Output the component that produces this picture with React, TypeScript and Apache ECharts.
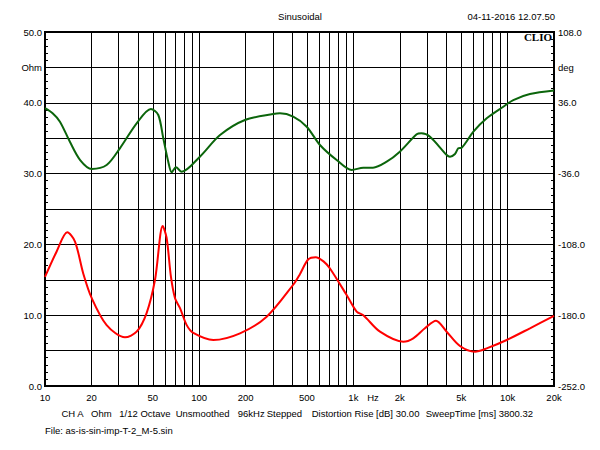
import React, { useEffect, useRef } from 'react';
import * as echarts from 'echarts';

const freqImp = [10, 11.9, 13.95, 15.65, 17.7, 20.1, 25.1, 33, 39.3, 45.6, 51.7, 58, 61.5, 65.6, 69.7, 75.1, 83, 91.6, 123.5, 184, 274, 407, 450, 510, 570, 640, 705, 904, 1050, 1160, 1488, 2107, 2445, 2910, 3433, 4025, 4910, 6150, 7320, 9870, 13960, 20000];
const impedance = [15.4, 19.0, 21.7, 20.4, 15.9, 12.4, 8.6, 6.88, 7.67, 10.3, 15.0, 22.6, 20.9, 15.4, 12.4, 11.0, 8.6, 7.5, 6.5, 7.44, 9.79, 14.3, 15.8, 17.9, 18.2, 17.6, 16.6, 12.85, 10.5, 10.0, 7.67, 6.26, 6.74, 8.15, 9.22, 7.67, 5.65, 4.85, 5.32, 6.5, 8.15, 9.9];

const freqPhase = [10, 11.2, 12.5, 14.5, 16.9, 20.1, 25.1, 30.6, 39.3, 48.6, 54.3, 58.5, 63, 66.3, 70.7, 77, 101, 136.5, 198, 302, 334, 407, 498, 607, 779, 975, 1160, 1340, 1645, 2000, 2573, 2760, 3140, 4030, 4230, 4560, 4790, 5040, 6000, 7320, 9380, 10890, 13960, 20000];
const phase = [30.5, 25.3, 16.8, -3.6, -22.2, -31.3, -27.3, -10.3, 15.1, 29.7, 23.6, -0.1, -23.9, -34.7, -29.6, -34.1, -18.8, 3.2, 18.5, 24.6, 25.3, 21.9, 11.7, -6.9, -22.2, -32.3, -30, -30, -23.9, -13.7, 4.0, 5.0, 1.5, -17.1, -18.8, -16, -10.3, -9.7, 6.6, 20.2, 32.0, 38.8, 44.9, 48.5];

const xTickLabels = [10, 20, 50, 100, 200, 500, 1000, 2000, 5000, 10000, 20000];
const xGridLines = [20, 30, 40, 50, 60, 70, 80, 90, 100, 200, 300, 400, 500, 600, 700, 800, 900, 1000, 2000, 3000, 4000, 5000, 6000, 7000, 8000, 9000, 10000];

const leftLabels: Record<number, string> = { 50: '50.0', 45: 'Ohm', 40: '40.0', 30: '30.0', 20: '20.0', 10: '10.0', 0: '0.0' };
const rightLabels: Record<number, string> = { 108: '108.0', 72: 'deg', 36: '36.0', [-36]: '-36.0', [-108]: '-108.0', [-180]: '-180.0', [-252]: '-252.0' };

const titleText = 'Sinusoidal';
const dateText = '04-11-2016 12.07.50';
const footerItems = [
  { text: 'CH A', x: 61.5 },
  { text: 'Ohm', x: 91 },
  { text: '1/12 Octave', x: 119.3 },
  { text: 'Unsmoothed', x: 175.7 },
  { text: '96kHz', x: 237.7 },
  { text: 'Stepped', x: 266.7 },
  { text: 'Distortion Rise [dB] 30.00', x: 311.7 },
  { text: 'SweepTime [ms] 3800.32', x: 425.7 },
];
const fileText = 'File: as-is-sin-imp-T-2_M-5.sin';

const FONT = '"Liberation Sans", Arial, sans-serif';
const FS = 9.5;

export default function App() {
  const ref = useRef<HTMLDivElement>(null);
  useEffect(() => {
    document.body.style.margin = '0';
    const chart = echarts.init(ref.current!, null, { renderer: 'svg' });
    const txt = (text: string, x: number, y: number, align: string = 'left', extra: any = {}) => ({
      type: 'text',
      x,
      y,
      silent: true,
      style: { text, fill: '#000', fontSize: FS, fontFamily: FONT, align, verticalAlign: 'middle', ...extra },
    });
    chart.setOption({
      animation: false,
      backgroundColor: '#fff',
      grid: { left: 45, right: 46, top: 32, bottom: 64, show: true, borderColor: '#000', borderWidth: 2, backgroundColor: 'transparent' },
      xAxis: {
        type: 'log',
        logBase: 10,
        min: 10,
        max: 20000,
        axisLine: { show: false },
        axisTick: { show: false },
        splitLine: { show: false },
        minorTick: { show: false },
        axisLabel: {
          customValues: xTickLabels,
          margin: 6,
          color: '#000',
          fontSize: FS,
          fontFamily: FONT,
          formatter: (v: number) => (v >= 1000 ? `${Math.round(v / 1000)}k` : `${Math.round(v)}`),
        },
      },
      yAxis: [
        {
          type: 'value',
          min: 0,
          max: 50,
          interval: 5,
          position: 'left',
          axisLine: { show: false },
          axisTick: { show: true, inside: true, length: 4, lineStyle: { color: '#000' } },
          minorTick: { show: true, splitNumber: 5, length: 3, lineStyle: { color: '#000' } },
          splitLine: { show: true, lineStyle: { color: '#000', width: 1 } },
          axisLabel: {
            margin: 3,
            color: '#000',
            fontSize: FS,
            fontFamily: FONT,
            formatter: (v: number) => leftLabels[Math.round(v)] ?? '',
          },
        },
        {
          type: 'value',
          min: -252,
          max: 108,
          interval: 36,
          position: 'right',
          axisLine: { show: false },
          axisTick: { show: true, inside: true, length: 4, lineStyle: { color: '#000' } },
          minorTick: { show: true, splitNumber: 5, length: 3, lineStyle: { color: '#000' } },
          splitLine: { show: false },
          axisLabel: {
            margin: 4,
            color: '#000',
            fontSize: FS,
            fontFamily: FONT,
            formatter: (v: number) => rightLabels[Math.round(v)] ?? '',
          },
        },
      ],
      series: [
        {
          type: 'line',
          data: [],
          z: 1,
          silent: true,
          markLine: {
            silent: true,
            symbol: ['none', 'none'],
            label: { show: false },
            emphasis: { disabled: true },
            lineStyle: { color: '#000', width: 1, type: 'solid' },
            data: xGridLines.map((v) => ({ xAxis: v })),
          },
        },
        {
          type: 'line',
          name: 'Impedance',
          data: freqImp.map((f, i) => [f, impedance[i]]),
          yAxisIndex: 0,
          showSymbol: false,
          smooth: 0.3,
          z: 5,
          lineStyle: { color: '#ff0000', width: 2 },
        },
        {
          type: 'line',
          name: 'Phase',
          data: freqPhase.map((f, i) => [f, phase[i]]),
          yAxisIndex: 1,
          showSymbol: false,
          smooth: 0.3,
          z: 5,
          lineStyle: { color: '#0b650b', width: 2 },
        },
      ],
      graphic: [
        txt(titleText, 300, 16, 'center'),
        txt(dateText, 555, 16, 'right'),
        txt('CLIO', 552, 37, 'right', { fontFamily: '"Liberation Serif", "Times New Roman", serif', fontWeight: 'bold', fontSize: 11 }),
        txt('Hz', 373, 397, 'center'),
        ...footerItems.map((it) => txt(it.text, it.x, 413, 'left')),
        txt(fileText, 45, 430, 'left'),
      ],
    });
    return () => chart.dispose();
  }, []);
  return <div ref={ref} style={{ width: 600, height: 450 }} />;
}
